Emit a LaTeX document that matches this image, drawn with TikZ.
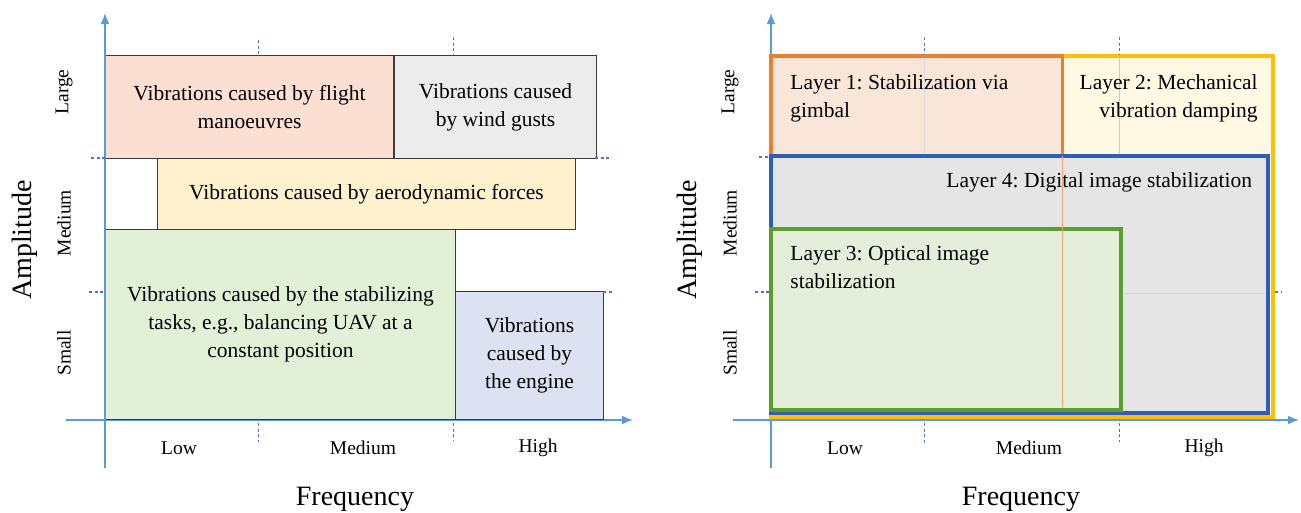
\documentclass[tikz,border=0pt]{standalone}
\usepackage{fontspec}
\setmainfont{Liberation Serif}
\newfontfamily\timesface{Liberation Serif}
\usetikzlibrary{arrows.meta}
\definecolor{axisblue}{HTML}{5B9BD5}
\definecolor{tickblue}{HTML}{4A78C8}
\definecolor{edgegray}{HTML}{3A3A40}
\definecolor{flightfill}{HTML}{FADFD2}
\definecolor{gustfill}{HTML}{ECECEC}
\definecolor{aerofill}{HTML}{FFF1CD}
\definecolor{stabfill}{HTML}{E3F0D8}
\definecolor{enginefill}{HTML}{DCE2F1}
\definecolor{gimballine}{HTML}{ED7D31}
\definecolor{gimbalfill}{HTML}{FAE6D9}
\definecolor{dampline}{HTML}{FFC000}
\definecolor{dampfill}{HTML}{FFF8E2}
\definecolor{digitalline}{HTML}{2F5EBA}
\definecolor{digitalfill}{HTML}{E5E5E5}
\definecolor{opticalline}{HTML}{5A9E2C}
\definecolor{opticalfill}{HTML}{E4EEDA}
\newcommand\boxfont{\timesface\fontsize{21.5}{28}\selectfont\frenchspacing}
\newcommand\levelfont{\timesface\fontsize{19.5}{24}\selectfont}
\newcommand\axisfont{\timesface\fontsize{28}{34}\selectfont}
\tikzset{
  every picture/.style={
    thick,
    >={Latex[width=9pt, length=11pt]}
  },
  axis/.style={draw=axisblue, line width=1.6pt},
  tickmark/.style={draw=tickblue, line width=1.2pt, dash pattern=on 3pt off 2.5pt},
  region/.style={
    draw=edgegray, line width=1pt, anchor=north west,
    inner sep=0pt, align=center, font=\boxfont
  },
  layerbox/.style={line width=3.5pt, anchor=north west, inner sep=0pt, outer sep=0pt},
  layertext/.style={inner sep=0pt, font=\boxfont},
  ticklabel/.style={inner sep=0pt, font=\levelfont},
  axistitle/.style={inner sep=0pt, font=\axisfont}
}
\begin{document}
\begin{tikzpicture}[x=1pt, y=-1pt]
  \useasboundingbox (0,0) rectangle (1301,512);
  % left panel
  \draw[axis,->] (66,420) -- (633,420);
  \node[region, fill=flightfill, minimum width=288pt, minimum height=103pt] (flight) at (105,55)
    {Vibrations caused by flight\\manoeuvres};
  \node[region, fill=gustfill, minimum width=202pt, minimum height=103pt] (gust) at (flight.north east)
    {Vibrations caused\\by wind gusts};
  \node[region, fill=aerofill, minimum width=418pt, minimum height=71pt] (aero) at (157,158)
    {Vibrations caused by aerodynamic forces};
  \node[region, fill=stabfill, minimum width=350pt, minimum height=190pt] (stab) at (105,229)
    {Vibrations caused by the stabilizing\\tasks, e.g., balancing UAV at a\\constant position};
  \node[region, fill=enginefill, minimum width=148pt, minimum height=128pt] (engine) at (455,291)
    {Vibrations\\caused by\\the engine};
  \draw[axis,->] (105,468) -- (105,13);
  \draw[tickmark] (258.5,40) -- (258.5,55);
  \draw[tickmark] (258.5,423) -- (258.5,442);
  \draw[tickmark] (453.5,37) -- (453.5,55);
  \draw[tickmark] (453.5,423) -- (453.5,440);
  \draw[tickmark] (91,158) -- (105,158);
  \draw[tickmark] (595,158) -- (609,158);
  \draw[tickmark] (89,292) -- (105,292);
  \draw[tickmark] (603,292) -- (612,292);
  \node[ticklabel, rotate=90] (large1) at (64,92) {Large};
  \node[ticklabel, rotate=90] (medium1) at (64,223) {Medium};
  \node[ticklabel, rotate=90] (small1) at (64,353) {Small};
  \node[ticklabel] (low1) at (179,448) {Low};
  \node[ticklabel] (mid1) at (363,448) {Medium};
  \node[ticklabel] (high1) at (538,448) {High};
  \node[axistitle, rotate=90] (amp1) at (25,240) {Amplitude};
  \node[axistitle] (freq1) at (355,499) {Frequency};
  % right panel
  \draw[axis,->] (733,420) -- (1299,420);
  \draw[axis,->] (771,468) -- (771,13);
  \node[layerbox, draw=dampline, fill=dampfill, minimum width=502pt, minimum height=361pt] (damp) at (771,56) {};
  \node[layerbox, draw=gimballine, fill=gimbalfill, minimum width=291.5pt, minimum height=100pt] (gimbal) at (771,56) {};
  \draw[gray!30, line width=0.8pt] (924.5,58) -- (924.5,154);
  \draw[gray!40, line width=0.8pt] (1119.5,58) -- (1119.5,154);
  \node[layerbox, draw=digitalline, fill=digitalfill, minimum width=497pt, minimum height=257pt] (digital) at (771,156) {};
  \draw[gray!30, line width=0.8pt] (1064,293) -- (1266,293);
  \node[layerbox, draw=opticalline, fill=opticalfill, minimum width=350pt, minimum height=181pt] (optical) at (771,229) {};
  \draw[gimballine!70, line width=0.8pt] (gimbal.south east) -- ++(0,252);
  \node[layertext, anchor=north west, align=left] (gimbaltext) at (790,74)
    {Layer 1: Stabilization via\\gimbal};
  \node[layertext, anchor=north east, align=right] (damptext) at (1258,74)
    {Layer 2: Mechanical\\vibration damping};
  \node[layertext, anchor=north east] (digitaltext) at (1252.5,172)
    {Layer 4: Digital image stabilization};
  \node[layertext, anchor=north west, align=left] (opticaltext) at (790,245)
    {Layer 3: Optical image\\stabilization};
  \draw[tickmark] (924.5,37) -- (924.5,55);
  \draw[tickmark] (924.5,423) -- (924.5,443);
  \draw[tickmark] (1119.5,37) -- (1119.5,55);
  \draw[tickmark] (1119.5,423) -- (1119.5,442);
  \draw[tickmark] (759,157) -- (769,157);
  \draw[tickmark] (755,292) -- (769,292);
  \draw[tickmark] (1275,292) -- (1281,292);
  \node[ticklabel, rotate=90] (large2) at (730,92) {Large};
  \node[ticklabel, rotate=90] (medium2) at (730,223) {Medium};
  \node[ticklabel, rotate=90] (small2) at (730,353) {Small};
  \node[ticklabel] (low2) at (845,448) {Low};
  \node[ticklabel] (mid2) at (1029,448) {Medium};
  \node[ticklabel] (high2) at (1204,448) {High};
  \node[axistitle, rotate=90] (amp2) at (690,240) {Amplitude};
  \node[axistitle] (freq2) at (1021,499) {Frequency};
\end{tikzpicture}
\end{document}
